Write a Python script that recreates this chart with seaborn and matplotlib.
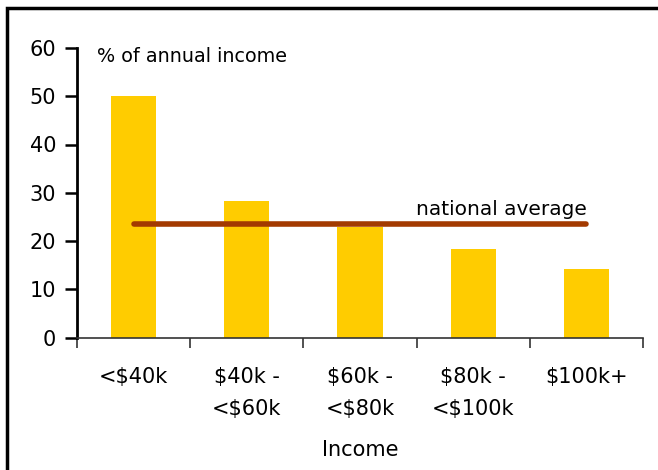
import matplotlib
matplotlib.use("Agg")
import matplotlib.pyplot as plt
from matplotlib.patches import Rectangle
import seaborn as sns
import pandas as pd

# Share of annual income by income bracket
categories = ["<$40k", "$40k -\n<$60k", "$60k -\n<$80k", "$80k -\n<$100k", "$100k+"]
values = [50.0, 28.3, 23.0, 18.3, 14.2]
national_average = 23.5
y_ticks = [0, 10, 20, 30, 40, 50, 60]

df = pd.DataFrame({"Income": categories, "pct": values})

sns.set_style("white")
plt.rcParams["font.family"] = ["DejaVu Sans"]
plt.rcParams["text.color"] = "black"
plt.rcParams["axes.labelcolor"] = "black"
plt.rcParams["xtick.color"] = "black"
plt.rcParams["ytick.color"] = "black"

fig = plt.figure(figsize=(6.58, 4.70), dpi=100)
ax = fig.add_axes([77 / 658, 1 - 337.5 / 470, (643 - 77) / 658, (337.5 - 48) / 470])

sns.barplot(data=df, x="Income", y="pct", color="#FFCC00", width=0.4,
            saturation=1, linewidth=0, ax=ax)

ax.plot([0, len(categories) - 1], [national_average, national_average],
        color="#A33A00", lw=4, solid_capstyle="round", zorder=5)
ax.text(len(categories) - 1, national_average + 1.0, "national average",
        ha="right", va="bottom", fontsize=14.5)
ax.text(0.035, 0.97, "% of annual income", transform=ax.transAxes,
        ha="left", va="center", fontsize=13.8)

ax.set_xlim(-0.5, len(categories) - 0.5)
ax.set_ylim(0, 60)
ax.set_yticks(y_ticks)
ax.set_xticks([i - 0.5 for i in range(len(categories) + 1)], minor=True)
ax.set_xticks(range(len(categories)))
ax.set_xticklabels(categories)
ax.tick_params(axis="x", which="major", length=0, pad=21, labelsize=15,
               bottom=True)
ax.tick_params(axis="x", which="minor", length=7, width=1.2, color="#333333",
               direction="out", bottom=True)
ax.tick_params(axis="y", length=9, width=1.8, direction="out", labelsize=15,
               pad=6, left=True)
for lbl in ax.get_xticklabels():
    lbl.set_linespacing(1.75)

ax.set_xlabel("Income", fontsize=15, labelpad=15)
ax.set_ylabel("")

sns.despine(ax=ax)
ax.spines["left"].set_linewidth(2)
ax.spines["left"].set_color("black")
ax.spines["bottom"].set_linewidth(1.2)
ax.spines["bottom"].set_color("#333333")

# outer frame
fig.patches.append(Rectangle((7 / 658, -0.2), 1.2, 1 - 8 / 470 + 0.2,
                             transform=fig.transFigure, fill=False,
                             edgecolor="black", lw=2.5, zorder=10))

fig.savefig("out.png", dpi=100)
